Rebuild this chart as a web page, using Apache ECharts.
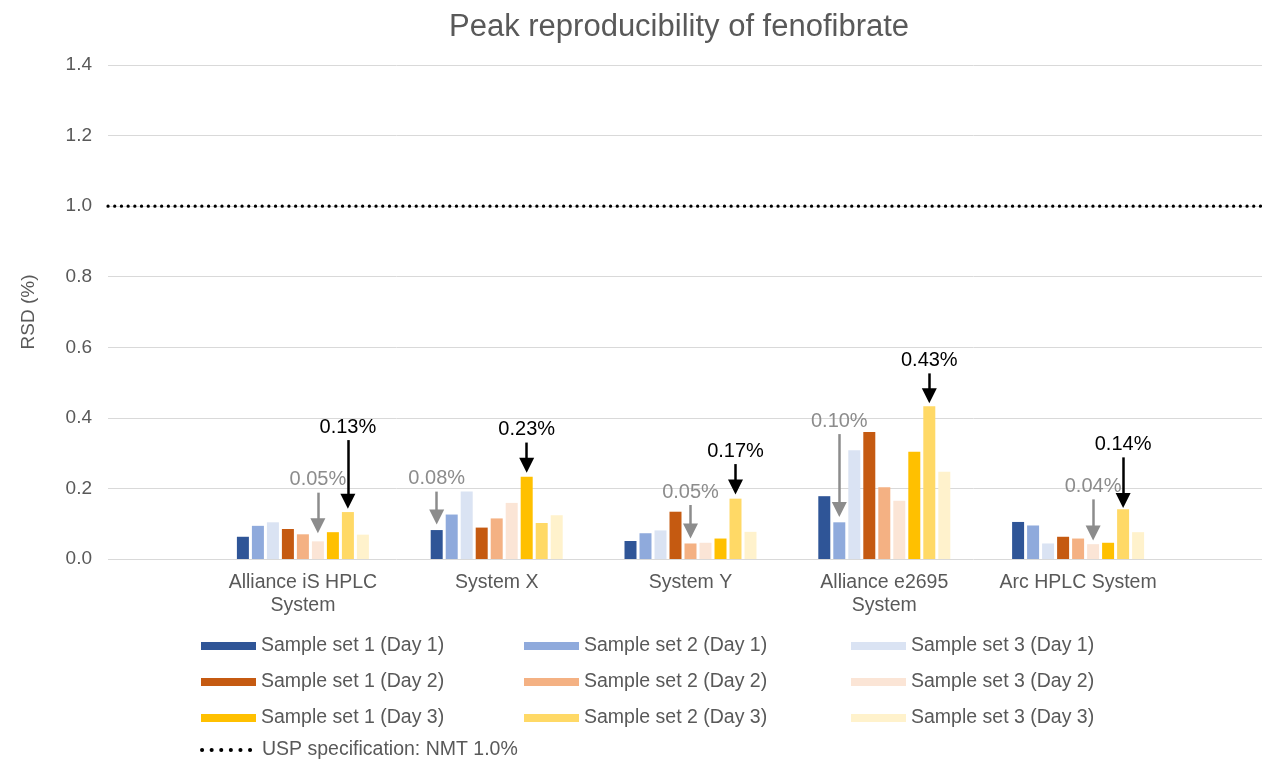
<!DOCTYPE html>
<html>
<head>
<meta charset="utf-8">
<title>Peak reproducibility of fenofibrate</title>
<script src="https://cdn.jsdelivr.net/npm/echarts/dist/echarts.min.js"></script>
<style>
    html, body { margin: 0; padding: 0; background: #fff; }
    #chart { width: 1262px; height: 759px; }
</style>
</head>
<body>
<div id="chart"></div>
<script>
// 系统名称（x轴）
var categories = ['Alliance iS HPLC\nSystem', 'System X', 'System Y', 'Alliance e2695\nSystem', 'Arc HPLC System'];

// 每个样品组的 RSD (%)
var set1Day1 = [0.063, 0.082, 0.051, 0.178, 0.105];
var set2Day1 = [0.094, 0.126, 0.073, 0.104, 0.095];
var set3Day1 = [0.104, 0.191, 0.081, 0.308, 0.044];
var set1Day2 = [0.085, 0.089, 0.134, 0.360, 0.063];
var set2Day2 = [0.070, 0.115, 0.044, 0.203, 0.058];
var set3Day2 = [0.050, 0.159, 0.046, 0.165, 0.042];
var set1Day3 = [0.076, 0.233, 0.058, 0.304, 0.046];
var set2Day3 = [0.133, 0.102, 0.171, 0.433, 0.141];
var set3Day3 = [0.069, 0.124, 0.077, 0.247, 0.076];

var seriesNames = [
    'Sample set 1 (Day 1)', 'Sample set 2 (Day 1)', 'Sample set 3 (Day 1)',
    'Sample set 1 (Day 2)', 'Sample set 2 (Day 2)', 'Sample set 3 (Day 2)',
    'Sample set 1 (Day 3)', 'Sample set 2 (Day 3)', 'Sample set 3 (Day 3)'
];
var seriesValues = [set1Day1, set2Day1, set3Day1, set1Day2, set2Day2, set3Day2, set1Day3, set2Day3, set3Day3];

// USP 限值
var uspName = 'USP specification: NMT 1.0%';
var uspLimit = [1.0, 1.0];

// y轴刻度
var yMin = 0;
var yMax = 1.4;
var yStep = 0.2;

// 箭头标注: 所在系列, 类别, 起点, 终点, 文字
var notes = [
    { series: 5, cat: 0, from: 0.188, to: 0.094, text: '0.05%', dark: false },
    { series: 7, cat: 0, from: 0.337, to: 0.164, text: '0.13%', dark: true },
    { series: 0, cat: 1, from: 0.191, to: 0.119, text: '0.08%', dark: false },
    { series: 6, cat: 1, from: 0.330, to: 0.266, text: '0.23%', dark: true },
    { series: 4, cat: 2, from: 0.153, to: 0.079, text: '0.05%', dark: false },
    { series: 7, cat: 2, from: 0.269, to: 0.204, text: '0.17%', dark: true },
    { series: 1, cat: 3, from: 0.354, to: 0.140, text: '0.10%', dark: false },
    { series: 7, cat: 3, from: 0.526, to: 0.463, text: '0.43%', dark: true },
    { series: 5, cat: 4, from: 0.169, to: 0.074, text: '0.04%', dark: false },
    { series: 7, cat: 4, from: 0.288, to: 0.166, text: '0.14%', dark: true }
];

var palette = ['#2f5597', '#8faadc', '#dae3f3', '#c55a11', '#f4b183', '#fbe5d6', '#ffc000', '#ffd966', '#fff2cc'];
var fontColor = '#595959';
var fontFamily = '"Liberation Sans", Arial, sans-serif';

function buildMarkLine(idx) {
    var data = [];
    notes.forEach(function (n) {
        if (n.series !== idx) {
            return;
        }
        var color = n.dark ? '#000000' : '#8c8c8c';
        data.push([
            {
                coord: [n.cat, n.from],
                lineStyle: { color: color },
                label: { color: color, formatter: n.text }
            },
            { coord: [n.cat, n.to] }
        ]);
    });
    if (!data.length) {
        return undefined;
    }
    return {
        silent: true,
        symbol: ['none', 'triangle'],
        symbolSize: 15,
        lineStyle: { type: 'solid', width: 2.5 },
        label: {
            show: true,
            position: 'start',
            distance: 3,
            fontSize: 20,
            fontFamily: fontFamily
        },
        data: data
    };
}

var series = [];
seriesNames.forEach(function (name, i) {
    series.push({
        name: name,
        type: 'bar',
        xAxisIndex: 0,
        yAxisIndex: 0,
        barWidth: 12,
        barGap: '25%',
        itemStyle: { color: palette[i] },
        data: seriesValues[i],
        markLine: buildMarkLine(i)
    });
});

series.push({
    name: uspName,
    type: 'line',
    xAxisIndex: 1,
    yAxisIndex: 1,
    symbol: 'none',
    silent: true,
    z: 5,
    lineStyle: { color: '#000000', width: 3.2, type: [0.1, 6.6], cap: 'round' },
    itemStyle: { color: '#000000' },
    data: uspLimit
});

var legendBase = {
    orient: 'vertical',
    icon: 'rect',
    itemWidth: 55,
    itemHeight: 8,
    itemGap: 16,
    padding: 0,
    selectedMode: false,
    textStyle: { fontSize: 19.5, color: fontColor, fontFamily: fontFamily }
};

function legendCol(left, top, names) {
    return Object.assign({}, legendBase, { left: left, top: top, data: names });
}

var chart = echarts.init(document.getElementById('chart'));
chart.setOption({
    animation: false,
    color: palette,
    title: {
        text: 'Peak reproducibility of fenofibrate',
        left: 444,
        top: 7,
        textStyle: { fontSize: 31, fontWeight: 'normal', color: fontColor, fontFamily: fontFamily }
    },
    legend: [
        legendCol(201, 636, [seriesNames[0], seriesNames[3], seriesNames[6]]),
        legendCol(524, 636, [seriesNames[1], seriesNames[4], seriesNames[7]]),
        legendCol(851, 636, [seriesNames[2], seriesNames[5], seriesNames[8]]),
        Object.assign({}, legendBase, {
            left: 200,
            top: 740,
            icon: null,
            data: [{
                name: uspName,
                itemStyle: { opacity: 0 },
                lineStyle: { color: '#000000', width: 4, type: [0.1, 9.5], cap: 'round' }
            }]
        })
    ],
    grid: [
        { left: 206, right: 87, top: 65, bottom: 200 },
        { left: 108, right: 0, top: 65, bottom: 200 }
    ],
    xAxis: [
        {
            type: 'category',
            gridIndex: 0,
            data: categories,
            axisLine: { show: false },
            axisTick: { show: false },
            axisLabel: {
                margin: 12,
                fontSize: 19.5,
                lineHeight: 23,
                color: fontColor,
                fontFamily: fontFamily,
                interval: 0
            }
        },
        {
            type: 'category',
            gridIndex: 1,
            data: ['', ''],
            boundaryGap: false,
            show: false
        }
    ],
    yAxis: [
        {
            type: 'value',
            gridIndex: 0,
            min: yMin,
            max: yMax,
            interval: yStep,
            show: false,
            splitLine: { show: false }
        },
        {
            type: 'value',
            gridIndex: 1,
            min: yMin,
            max: yMax,
            interval: yStep,
            name: 'RSD (%)',
            nameLocation: 'middle',
            nameGap: 70,
            nameTextStyle: { fontSize: 19, color: fontColor, fontFamily: fontFamily },
            axisLine: { show: false },
            axisTick: { show: false },
            axisLabel: {
                margin: 16,
                fontSize: 19,
                color: fontColor,
                fontFamily: fontFamily,
                formatter: function (v) { return v.toFixed(1); }
            },
            splitLine: { lineStyle: { color: '#d9d9d9', width: 1 } }
        }
    ],
    series: series
});
</script>
</body>
</html>
